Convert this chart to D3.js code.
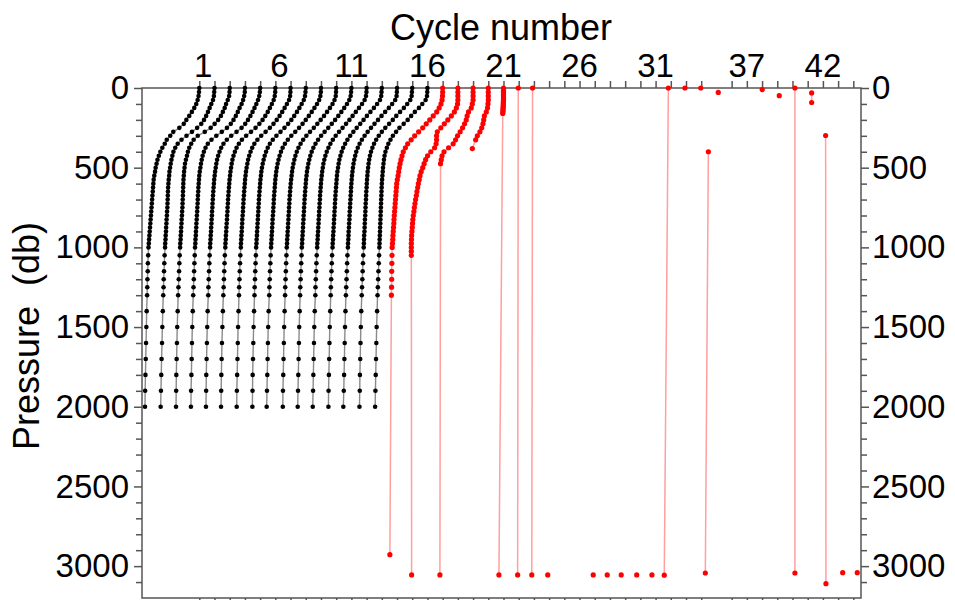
<!DOCTYPE html>
<html><head><meta charset="utf-8">
<script src="https://cdn.jsdelivr.net/npm/d3@7"></script>
<style>body{margin:0;background:#fff} svg{display:block}</style>
</head><body>
<svg id="c" width="955" height="600"></svg>
<script>
// ---------------- DATA ----------------
// shared pressure levels (db) of the good (black) profiles
const PRES = [0,25,50,75,100,125,150,175,200,225,250,275,300,325,350,375,400,425,450,475,
  500,525,550,575,600,625,650,675,700,725,750,775,800,825,850,875,900,925,950,975,1000,
  1050,1100,1150,1200,1250,1300,1400,1500,1600,1700,1800,1900,2000];
const BLACK_CYCLES = [1,2,3,4,5,6,7,8,9,10,11,12,13,14,15,16];
// horizontal offset of each sample from its cycle position (cycle-axis units)
const BLACK_OFF = [
 [0,-0.02,-0.05,-0.11,-0.20,-0.33,-0.49,-0.66,-0.85,-1.02,-1.31,-1.71,-1.91,-2.14,-2.27,-2.43,-2.56,-2.66,-2.75,-2.81,-2.87,-2.91,-2.96,-3.00,-3.02,-3.04,-3.06,-3.08,-3.10,-3.12,-3.14,-3.16,-3.18,-3.20,-3.22,-3.24,-3.26,-3.28,-3.30,-3.32,-3.34,-3.36,-3.38,-3.39,-3.41,-3.42,-3.43,-3.46,-3.48,-3.50,-3.52,-3.54,-3.56,-3.57],
 [0,-0.02,-0.04,-0.10,-0.21,-0.32,-0.43,-0.55,-0.69,-0.87,-1.14,-1.48,-1.84,-2.17,-2.42,-2.58,-2.70,-2.77,-2.83,-2.88,-2.92,-2.96,-2.98,-3.01,-3.03,-3.05,-3.06,-3.07,-3.08,-3.09,-3.10,-3.12,-3.13,-3.15,-3.16,-3.18,-3.19,-3.21,-3.22,-3.24,-3.25,-3.28,-3.30,-3.32,-3.34,-3.35,-3.37,-3.40,-3.43,-3.45,-3.48,-3.50,-3.52,-3.54],
 [0,-0.01,-0.04,-0.13,-0.24,-0.33,-0.45,-0.58,-0.76,-0.99,-1.25,-1.64,-2.10,-2.37,-2.53,-2.66,-2.75,-2.81,-2.88,-2.94,-2.97,-3.00,-3.02,-3.04,-3.05,-3.06,-3.07,-3.08,-3.09,-3.10,-3.11,-3.13,-3.14,-3.16,-3.17,-3.19,-3.20,-3.22,-3.23,-3.25,-3.26,-3.29,-3.31,-3.33,-3.35,-3.37,-3.39,-3.42,-3.45,-3.47,-3.49,-3.51,-3.52,-3.53],
 [0,-0.01,-0.05,-0.12,-0.22,-0.35,-0.47,-0.60,-0.75,-0.93,-1.18,-1.52,-1.88,-2.20,-2.44,-2.59,-2.70,-2.78,-2.84,-2.89,-2.93,-2.97,-3.00,-3.02,-3.04,-3.06,-3.07,-3.09,-3.10,-3.11,-3.13,-3.14,-3.16,-3.17,-3.19,-3.20,-3.22,-3.23,-3.25,-3.26,-3.28,-3.30,-3.32,-3.34,-3.36,-3.38,-3.40,-3.43,-3.46,-3.48,-3.50,-3.52,-3.54,-3.55],
 [0,-0.02,-0.06,-0.14,-0.25,-0.37,-0.50,-0.64,-0.80,-0.98,-1.22,-1.55,-1.90,-2.19,-2.41,-2.56,-2.67,-2.76,-2.83,-2.88,-2.92,-2.96,-2.99,-3.02,-3.04,-3.06,-3.08,-3.10,-3.11,-3.13,-3.14,-3.16,-3.17,-3.19,-3.20,-3.22,-3.23,-3.25,-3.26,-3.28,-3.29,-3.32,-3.34,-3.36,-3.38,-3.40,-3.41,-3.45,-3.48,-3.50,-3.52,-3.54,-3.55,-3.56],
 [0,-0.01,-0.04,-0.11,-0.23,-0.36,-0.50,-0.66,-0.84,-1.05,-1.30,-1.60,-1.92,-2.20,-2.40,-2.55,-2.66,-2.75,-2.82,-2.87,-2.91,-2.95,-2.98,-3.01,-3.03,-3.05,-3.07,-3.09,-3.11,-3.12,-3.14,-3.15,-3.17,-3.18,-3.20,-3.22,-3.23,-3.25,-3.26,-3.28,-3.29,-3.32,-3.34,-3.36,-3.38,-3.40,-3.42,-3.45,-3.48,-3.51,-3.53,-3.55,-3.56,-3.57],
 [0,-0.01,-0.03,-0.10,-0.24,-0.39,-0.55,-0.72,-0.91,-1.12,-1.36,-1.64,-1.93,-2.18,-2.38,-2.52,-2.63,-2.72,-2.79,-2.84,-2.89,-2.93,-2.96,-2.99,-3.01,-3.03,-3.05,-3.07,-3.09,-3.10,-3.12,-3.13,-3.15,-3.17,-3.18,-3.20,-3.21,-3.23,-3.24,-3.26,-3.27,-3.30,-3.32,-3.34,-3.36,-3.38,-3.39,-3.42,-3.45,-3.47,-3.49,-3.51,-3.53,-3.54],
 [0,-0.02,-0.05,-0.13,-0.27,-0.42,-0.58,-0.76,-0.95,-1.16,-1.40,-1.66,-1.93,-2.17,-2.36,-2.50,-2.61,-2.70,-2.77,-2.83,-2.88,-2.92,-2.95,-2.98,-3.00,-3.02,-3.04,-3.06,-3.08,-3.09,-3.11,-3.12,-3.14,-3.15,-3.17,-3.18,-3.20,-3.21,-3.23,-3.24,-3.26,-3.28,-3.30,-3.32,-3.34,-3.36,-3.37,-3.40,-3.43,-3.45,-3.47,-3.49,-3.50,-3.51],
 [0,-0.01,-0.04,-0.12,-0.26,-0.43,-0.61,-0.80,-1.00,-1.21,-1.44,-1.69,-1.95,-2.18,-2.37,-2.52,-2.63,-2.72,-2.79,-2.85,-2.90,-2.94,-2.97,-3.00,-3.02,-3.04,-3.06,-3.08,-3.10,-3.11,-3.13,-3.14,-3.16,-3.18,-3.19,-3.21,-3.22,-3.24,-3.25,-3.27,-3.28,-3.31,-3.33,-3.35,-3.37,-3.39,-3.40,-3.44,-3.47,-3.49,-3.51,-3.53,-3.55,-3.57],
 [0,-0.01,-0.03,-0.11,-0.24,-0.41,-0.60,-0.80,-1.02,-1.24,-1.47,-1.72,-1.96,-2.17,-2.34,-2.48,-2.59,-2.68,-2.75,-2.81,-2.86,-2.90,-2.93,-2.96,-2.99,-3.01,-3.03,-3.05,-3.07,-3.08,-3.10,-3.11,-3.13,-3.14,-3.16,-3.17,-3.19,-3.20,-3.22,-3.23,-3.25,-3.27,-3.29,-3.31,-3.33,-3.35,-3.36,-3.39,-3.42,-3.44,-3.46,-3.48,-3.50,-3.51],
 [0,-0.02,-0.05,-0.14,-0.29,-0.47,-0.66,-0.86,-1.07,-1.29,-1.52,-1.76,-1.99,-2.19,-2.36,-2.50,-2.61,-2.70,-2.77,-2.83,-2.88,-2.92,-2.95,-2.98,-3.00,-3.02,-3.04,-3.06,-3.08,-3.09,-3.11,-3.12,-3.14,-3.15,-3.17,-3.18,-3.20,-3.21,-3.23,-3.24,-3.26,-3.28,-3.30,-3.32,-3.34,-3.36,-3.37,-3.40,-3.43,-3.45,-3.47,-3.49,-3.51,-3.53],
 [0,-0.01,-0.04,-0.13,-0.30,-0.50,-0.71,-0.92,-1.13,-1.35,-1.58,-1.81,-2.03,-2.22,-2.38,-2.51,-2.62,-2.71,-2.78,-2.84,-2.88,-2.92,-2.95,-2.98,-3.00,-3.02,-3.04,-3.06,-3.07,-3.09,-3.10,-3.12,-3.13,-3.15,-3.16,-3.18,-3.19,-3.21,-3.22,-3.24,-3.25,-3.28,-3.30,-3.32,-3.34,-3.36,-3.37,-3.41,-3.44,-3.46,-3.48,-3.50,-3.52,-3.54],
 [0,-0.02,-0.04,-0.12,-0.31,-0.52,-0.75,-0.98,-1.20,-1.42,-1.65,-1.87,-2.08,-2.26,-2.41,-2.54,-2.64,-2.72,-2.79,-2.84,-2.88,-2.92,-2.95,-2.97,-2.99,-3.01,-3.03,-3.05,-3.06,-3.08,-3.09,-3.11,-3.12,-3.14,-3.15,-3.17,-3.18,-3.20,-3.21,-3.23,-3.24,-3.27,-3.29,-3.31,-3.33,-3.35,-3.36,-3.39,-3.42,-3.44,-3.46,-3.48,-3.50,-3.51],
 [0,-0.01,-0.03,-0.12,-0.32,-0.54,-0.78,-1.02,-1.25,-1.48,-1.71,-1.93,-2.13,-2.31,-2.46,-2.58,-2.68,-2.75,-2.81,-2.86,-2.90,-2.93,-2.96,-2.98,-3.00,-3.02,-3.03,-3.05,-3.06,-3.08,-3.09,-3.11,-3.12,-3.13,-3.15,-3.16,-3.18,-3.19,-3.20,-3.22,-3.23,-3.26,-3.28,-3.30,-3.32,-3.34,-3.36,-3.39,-3.42,-3.44,-3.46,-3.48,-3.50,-3.53],
 [0,-0.02,-0.04,-0.13,-0.33,-0.55,-0.80,-1.05,-1.28,-1.52,-1.77,-2.00,-2.20,-2.37,-2.51,-2.62,-2.71,-2.78,-2.83,-2.87,-2.90,-2.93,-2.95,-2.97,-2.99,-3.00,-3.02,-3.03,-3.04,-3.06,-3.07,-3.08,-3.09,-3.11,-3.12,-3.13,-3.14,-3.16,-3.17,-3.18,-3.19,-3.22,-3.24,-3.26,-3.28,-3.30,-3.32,-3.35,-3.38,-3.40,-3.42,-3.44,-3.45,-3.47],
 [0,-0.01,-0.03,-0.12,-0.34,-0.56,-0.83,-1.07,-1.30,-1.56,-1.84,-2.06,-2.27,-2.43,-2.57,-2.67,-2.76,-2.82,-2.86,-2.89,-2.92,-2.94,-2.96,-2.98,-3.00,-3.01,-3.02,-3.03,-3.04,-3.05,-3.06,-3.07,-3.08,-3.09,-3.10,-3.11,-3.12,-3.13,-3.14,-3.15,-3.16,-3.18,-3.20,-3.22,-3.24,-3.26,-3.28,-3.31,-3.34,-3.36,-3.38,-3.40,-3.42,-3.44]
];

// flagged (red) profiles: cycle, pressures, offsets
const RED_CYCLES = [17,18,19,20,21,22,23,24,27,28,29,30,31,32,33,34,35,35,38,39,40,41,42,43,44];
const RED_PRES = [
 [0,25,50,75,100,125,150,175,200,225,250,275,300,325,350,375,400,425,450,475,500,525,550,575,600,625,650,675,700,725,750,775,800,825,850,875,900,925,950,975,1000,1050,1100,1150,1200,1250,1300,2928],
 [0,25,50,75,100,125,150,175,200,225,250,275,300,325,350,375,400,425,450,475,500,525,550,575,600,625,650,675,700,725,750,775,800,825,850,875,900,925,950,975,1000,1025,1050,3055],
 [0,25,50,75,100,125,150,175,200,225,250,275,300,325,350,375,400,425,450,475,3055],
 [0,25,50,75,100,125,150,175,200,225,250,275,300,325,380],
 [0,10,20,30,40,50,60,70,80,90,100,110,120,130,140,150,160,3055],
 [0,3055],[0,3055],[3055],[3055],[3055],[3055],[3055],[3055],[0,3057],[0],[0],[28],[400,3043],
 [10],[48],[0,3043],[31,91],[298,3110],[3041],[3041]
];
const RED_OFF = [
 [0,0,-0.01,-0.04,-0.11,-0.23,-0.39,-0.62,-0.85,-1.08,-1.31,-1.58,-1.84,-2.07,-2.30,-2.45,-2.59,-2.67,-2.74,-2.80,-2.85,-2.89,-2.93,-2.98,-3.02,-3.04,-3.06,-3.08,-3.10,-3.12,-3.14,-3.16,-3.18,-3.20,-3.21,-3.23,-3.25,-3.27,-3.28,-3.30,-3.32,-3.33,-3.34,-3.35,-3.35,-3.36,-3.37,-3.47],
 [0,0,0,0,-0.02,-0.10,-0.23,-0.43,-0.66,-0.89,-1.12,-1.35,-1.40,-1.40,-1.43,-1.53,-1.78,-1.99,-2.12,-2.22,-2.31,-2.41,-2.49,-2.54,-2.60,-2.64,-2.69,-2.73,-2.78,-2.82,-2.86,-2.89,-2.93,-2.96,-2.98,-3.00,-3.02,-3.04,-3.05,-3.06,-3.06,-3.06,-3.06,-3.04],
 [0,0,0,0,-0.05,-0.12,-0.30,-0.39,-0.45,-0.56,-0.69,-0.85,-1.02,-1.15,-1.31,-1.61,-1.91,-2.04,-2.09,-2.14,-2.18],
 [0,0,0,0,-0.02,-0.05,-0.13,-0.26,-0.30,-0.35,-0.43,-0.55,-0.72,-0.83,-1.05],
 [0,0,0,0,0,0,0,0,0,-0.01,-0.01,-0.02,-0.02,-0.03,-0.03,-0.04,-0.05,-0.30],
 [-0.03,-0.07],[-0.09,-0.14],[-0.09],[-0.10],[-0.18],[-0.26],[-0.24],[-0.24],[-0.16,-0.43],[-0.07],[-0.03],[0.12],[-0.53,-0.73],
 [0.01],[0.13],[0.16,0.16],[0.26,0.26],[0.18,0.20],[0.30],[0.26]
];

const TICK_CYCLES = [1,2,3,4,5,6,7,8,9,10,11,12,13,14,15,16,17,18,19,20,21,22,23,24,25,26,27,28,29,30,31,32,33,34,36,37,38,39,40,41,42,43,44];
const TICK_LABELS = [1,6,11,16,21,26,31,37,42];
const Y_MAJOR = [0,500,1000,1500,2000,2500,3000];
const Y_MINOR = [100,200,300,400,600,700,800,900,1100,1200,1300,1400,1600,1700,1800,1900,2100,2200,2300,2400,2600,2700,2800,2900,3100];

// ---------------- DRAW ----------------
const svg = d3.select('#c');
const L = 142, R = 861, T = 88, B = 598;
const x = d3.scaleLinear().domain([-2.767, 44.505]).range([L, R]);
const y = d3.scaleLinear().domain([0, 3200]).range([T, B]);
const FONT = "'Liberation Sans', Arial, sans-serif";
const AX = '#555';

// frame
svg.append('rect').attr('x', L).attr('y', T).attr('width', R - L).attr('height', B - T)
  .attr('fill', 'none').attr('stroke', AX).attr('stroke-width', 1.5);

// top & bottom ticks
const axTop = d3.axisTop(x).tickValues(TICK_CYCLES).tickSize(7).tickFormat('');
const gTop = svg.append('g').attr('transform', `translate(0,${T})`).call(axTop);
const axBot = d3.axisBottom(x).tickValues(TICK_CYCLES).tickSize(7).tickFormat('');
const gBot = svg.append('g').attr('transform', `translate(0,${B})`).call(axBot);
// left & right ticks
const gLmin = svg.append('g').attr('transform', `translate(${L},0)`).call(d3.axisLeft(y).tickValues(Y_MINOR).tickSize(6).tickFormat(''));
const gLmaj = svg.append('g').attr('transform', `translate(${L},0)`).call(d3.axisLeft(y).tickValues(Y_MAJOR).tickSize(8).tickPadding(5).tickFormat(d3.format('d')));
const gRmin = svg.append('g').attr('transform', `translate(${R},0)`).call(d3.axisRight(y).tickValues(Y_MINOR).tickSize(6).tickFormat(''));
const gRmaj = svg.append('g').attr('transform', `translate(${R},0)`).call(d3.axisRight(y).tickValues(Y_MAJOR).tickSize(8).tickPadding(3).tickFormat(d3.format('d')));
[gTop, gBot, gLmin, gLmaj, gRmin, gRmaj].forEach(g => {
  g.select('.domain').remove();
  g.selectAll('line').attr('stroke', AX).attr('stroke-width', 1.5);
  g.selectAll('text').attr('fill', '#000').style('font-family', FONT).style('font-size', '33px');
});

// top labels
svg.append('g').selectAll('text').data(TICK_LABELS).join('text')
  .attr('x', d => x(d) + (d < 10 ? 4 : 0)).attr('y', 77)
  .attr('text-anchor', 'middle').style('font-family', FONT).style('font-size', '33px')
  .text(d => d);

// titles
svg.append('text').attr('x', 501).attr('y', 40).attr('text-anchor', 'middle')
  .style('font-family', FONT).style('font-size', '36px').text('Cycle number');
svg.append('text').attr('transform', 'translate(39,336) rotate(-90)').attr('text-anchor', 'middle')
  .style('font-family', FONT).style('font-size', '36px').style('white-space', 'pre').text('Pressure  (db)');

const line = d3.line().x(d => x(d.c)).y(d => y(d.p));

// black profiles
const blackData = BLACK_CYCLES.map((c, k) => PRES.slice(0, BLACK_OFF[k].length).map((p, i) => ({c: c + BLACK_OFF[k][i], p})));
const gb = svg.append('g');
gb.selectAll('path').data(blackData).join('path').attr('d', line)
  .attr('fill', 'none').attr('stroke', '#8a8a8a').attr('stroke-width', 1.4);
gb.selectAll('g').data(blackData).join('g').selectAll('circle').data(d => d).join('circle')
  .attr('cx', d => x(d.c)).attr('cy', d => y(d.p)).attr('r', 2.3).attr('fill', '#000');

// red profiles
const redData = RED_CYCLES.map((c, k) => RED_PRES[k].map((p, i) => ({c: c + RED_OFF[k][i], p})));
const gr = svg.append('g');
gr.selectAll('path').data(redData.filter(d => d.length > 1)).join('path').attr('d', line)
  .attr('fill', 'none').attr('stroke', '#ff9f9f').attr('stroke-width', 1.5);
gr.selectAll('g').data(redData).join('g').selectAll('circle').data(d => d).join('circle')
  .attr('cx', d => x(d.c)).attr('cy', d => y(d.p)).attr('r', 2.6).attr('fill', '#ff0000');
</script>
</body></html>
